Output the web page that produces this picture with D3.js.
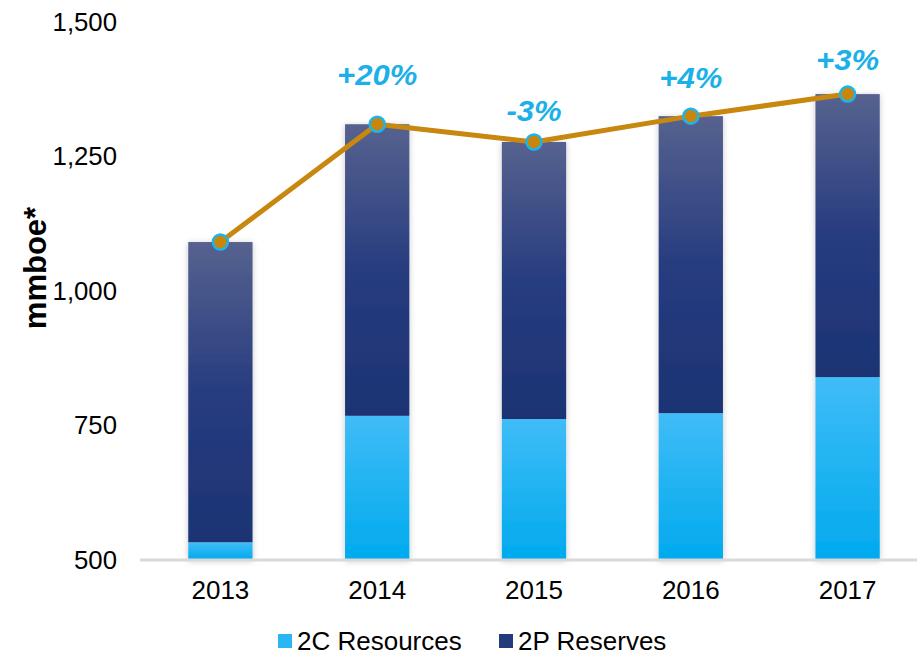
<!DOCTYPE html>
<html lang="en">
<head>
    <meta charset="UTF-8">
    <script src="https://cdn.jsdelivr.net/npm/d3@7/dist/d3.min.js"></script>
    <style>
        * { margin: 0; padding: 0; }
        body { background: #ffffff; }
        text { font-family: "Liberation Sans", Arial, sans-serif; }
    </style>
    <title>mmboe chart</title>
</head>
<body>
<script>
    const width = 917;
    const height = 657;

    // data
    const years = ["2013", "2014", "2015", "2016", "2017"];
    const resources2C = [533, 768, 762, 773, 840];
    const reserves2P = [558, 542, 515, 552, 526];
    const growthLabels = ["", "+20%", "-3%", "+4%", "+3%"];
    const yTicks = [500, 750, 1000, 1250, 1500];

    const rows = years.map((y, i) => ({ year: y, c2: resources2C[i], p2: reserves2P[i] }));
    const totals = rows.map(d => d.c2 + d.p2);

    const plotLeft = 142, plotRight = 926, plotTop = 22, plotBottom = 560;
    // gap between each dot and its % label baseline (labels were hand placed)
    const labelGap = [0, 39, 21, 28, 24];

    const x = d3.scaleBand()
        .domain(years)
        .range([plotLeft, plotRight])
        .paddingInner(0.59)
        .paddingOuter(0.295);
    const y = d3.scaleLinear()
        .domain([500, 1500])
        .range([plotBottom, plotTop]);

    const svg = d3.select("body").append("svg")
        .attr("width", width)
        .attr("height", height);

    function widen(sel, k) {
        sel.each(function () {
            const w = this.getComputedTextLength();
            d3.select(this).attr("textLength", w * k).attr("lengthAdjust", "spacingAndGlyphs");
        });
    }

    const defs = svg.append("defs");
    const g2p = defs.append("linearGradient")
        .attr("id", "g2p")
        .attr("x1", 0).attr("x2", 0)
        .attr("y1", 0).attr("y2", 1);
    [[0, "#56628f"], [0.5, "#273c7f"], [1, "#1c3373"]].forEach(s =>
        g2p.append("stop").attr("offset", s[0]).attr("stop-color", s[1]));
    const g2c = defs.append("linearGradient")
        .attr("id", "g2c")
        .attr("x1", 0).attr("x2", 0)
        .attr("y1", 0).attr("y2", 1);
    [[0, "#40bcf7"], [1, "#00aaee"]].forEach(s =>
        g2c.append("stop").attr("offset", s[0]).attr("stop-color", s[1]));
    const shadow = defs.append("filter").attr("id", "shadow")
        .attr("x", "-20%").attr("y", "-5%").attr("width", "140%").attr("height", "110%");
    shadow.append("feDropShadow")
        .attr("dx", 0).attr("dy", 1)
        .attr("stdDeviation", 3)
        .attr("flood-color", "#000").attr("flood-opacity", 0.22);

    // bars
    const stack = d3.stack().keys(["c2", "p2"])(rows);
    const fills = { c2: "url(#g2c)", p2: "url(#g2p)" };
    const barG = svg.append("g").attr("filter", "url(#shadow)");
    barG.selectAll("g.series")
        .data(stack)
        .join("g")
        .attr("class", "series")
        .attr("fill", s => fills[s.key])
        .selectAll("rect")
        .data(s => s)
        .join("rect")
        .attr("x", d => x(d.data.year))
        .attr("width", x.bandwidth())
        .attr("y", d => y(d[1]))
        .attr("height", d => y(Math.max(500, d[0])) - y(d[1]));

    // baseline
    svg.append("line")
        .attr("x1", plotLeft - 2).attr("x2", width)
        .attr("y1", y(500)).attr("y2", y(500))
        .attr("stroke", "#d9d9d9")
        .attr("stroke-width", 3);

    // y axis
    const yAxis = svg.append("g")
        .attr("transform", `translate(${plotLeft},0)`)
        .call(d3.axisLeft(y).tickValues(yTicks).tickFormat(d3.format(",")).tickSize(0).tickPadding(25));
    yAxis.select(".domain").remove();
    yAxis.selectAll("text")
        .attr("font-family", "Liberation Sans, Arial, sans-serif")
        .attr("font-size", 25)
        .attr("fill", "#000")
        .call(widen, 1.03);

    // x axis
    const xAxis = svg.append("g")
        .attr("transform", `translate(0,${plotBottom})`)
        .call(d3.axisBottom(x).tickSize(0).tickPadding(21));
    xAxis.select(".domain").remove();
    xAxis.selectAll("text")
        .attr("font-family", "Liberation Sans, Arial, sans-serif")
        .attr("font-size", 25)
        .attr("fill", "#000")
        .call(widen, 1.04);

    svg.append("text")
        .attr("transform", `translate(46,268) rotate(-90)`)
        .attr("text-anchor", "middle")
        .attr("font-size", 31)
        .attr("font-weight", "bold")
        .attr("fill", "#000")
        .text("mmboe*");

    // total line
    const cx = d => x(d.year) + x.bandwidth() / 2;
    const line = d3.line()
        .x((d, i) => cx(rows[i]))
        .y(d => y(d));
    svg.append("path")
        .datum(totals)
        .attr("d", line)
        .attr("fill", "none")
        .attr("stroke", "#c8870e")
        .attr("stroke-width", 5)
        .attr("stroke-linejoin", "round");
    svg.selectAll("circle.dot")
        .data(totals)
        .join("circle")
        .attr("class", "dot")
        .attr("cx", (d, i) => cx(rows[i]))
        .attr("cy", d => y(d))
        .attr("r", 7.5)
        .attr("fill", "#c8860c")
        .attr("stroke", "#1db4ec")
        .attr("stroke-width", 2.5);

    svg.selectAll("text.growth")
        .data(growthLabels)
        .join("text")
        .attr("class", "growth")
        .attr("x", (d, i) => cx(rows[i]))
        .attr("y", (d, i) => y(totals[i]) - labelGap[i])
        .attr("text-anchor", "middle")
        .attr("font-size", 29)
        .attr("font-weight", "bold")
        .attr("font-style", "italic")
        .attr("fill", "#1cb0e8")
        .text(d => d)
        .call(widen, 1.07);

    // legend
    const legendItems = [
        { label: "2C Resources", fill: "#2ab6f3", x: 278 },
        { label: "2P Reserves", fill: "#233a7d", x: 499 }
    ];
    const legend = svg.selectAll("g.legend")
        .data(legendItems)
        .join("g")
        .attr("class", "legend")
        .attr("transform", d => `translate(${d.x},634)`);
    legend.append("rect")
        .attr("width", 14).attr("height", 14)
        .attr("fill", d => d.fill);
    legend.append("text")
        .attr("x", 19).attr("y", 16)
        .attr("font-size", 25)
        .attr("fill", "#000")
        .text(d => d.label)
        .call(widen, 1.04);
</script>
</body>
</html>
